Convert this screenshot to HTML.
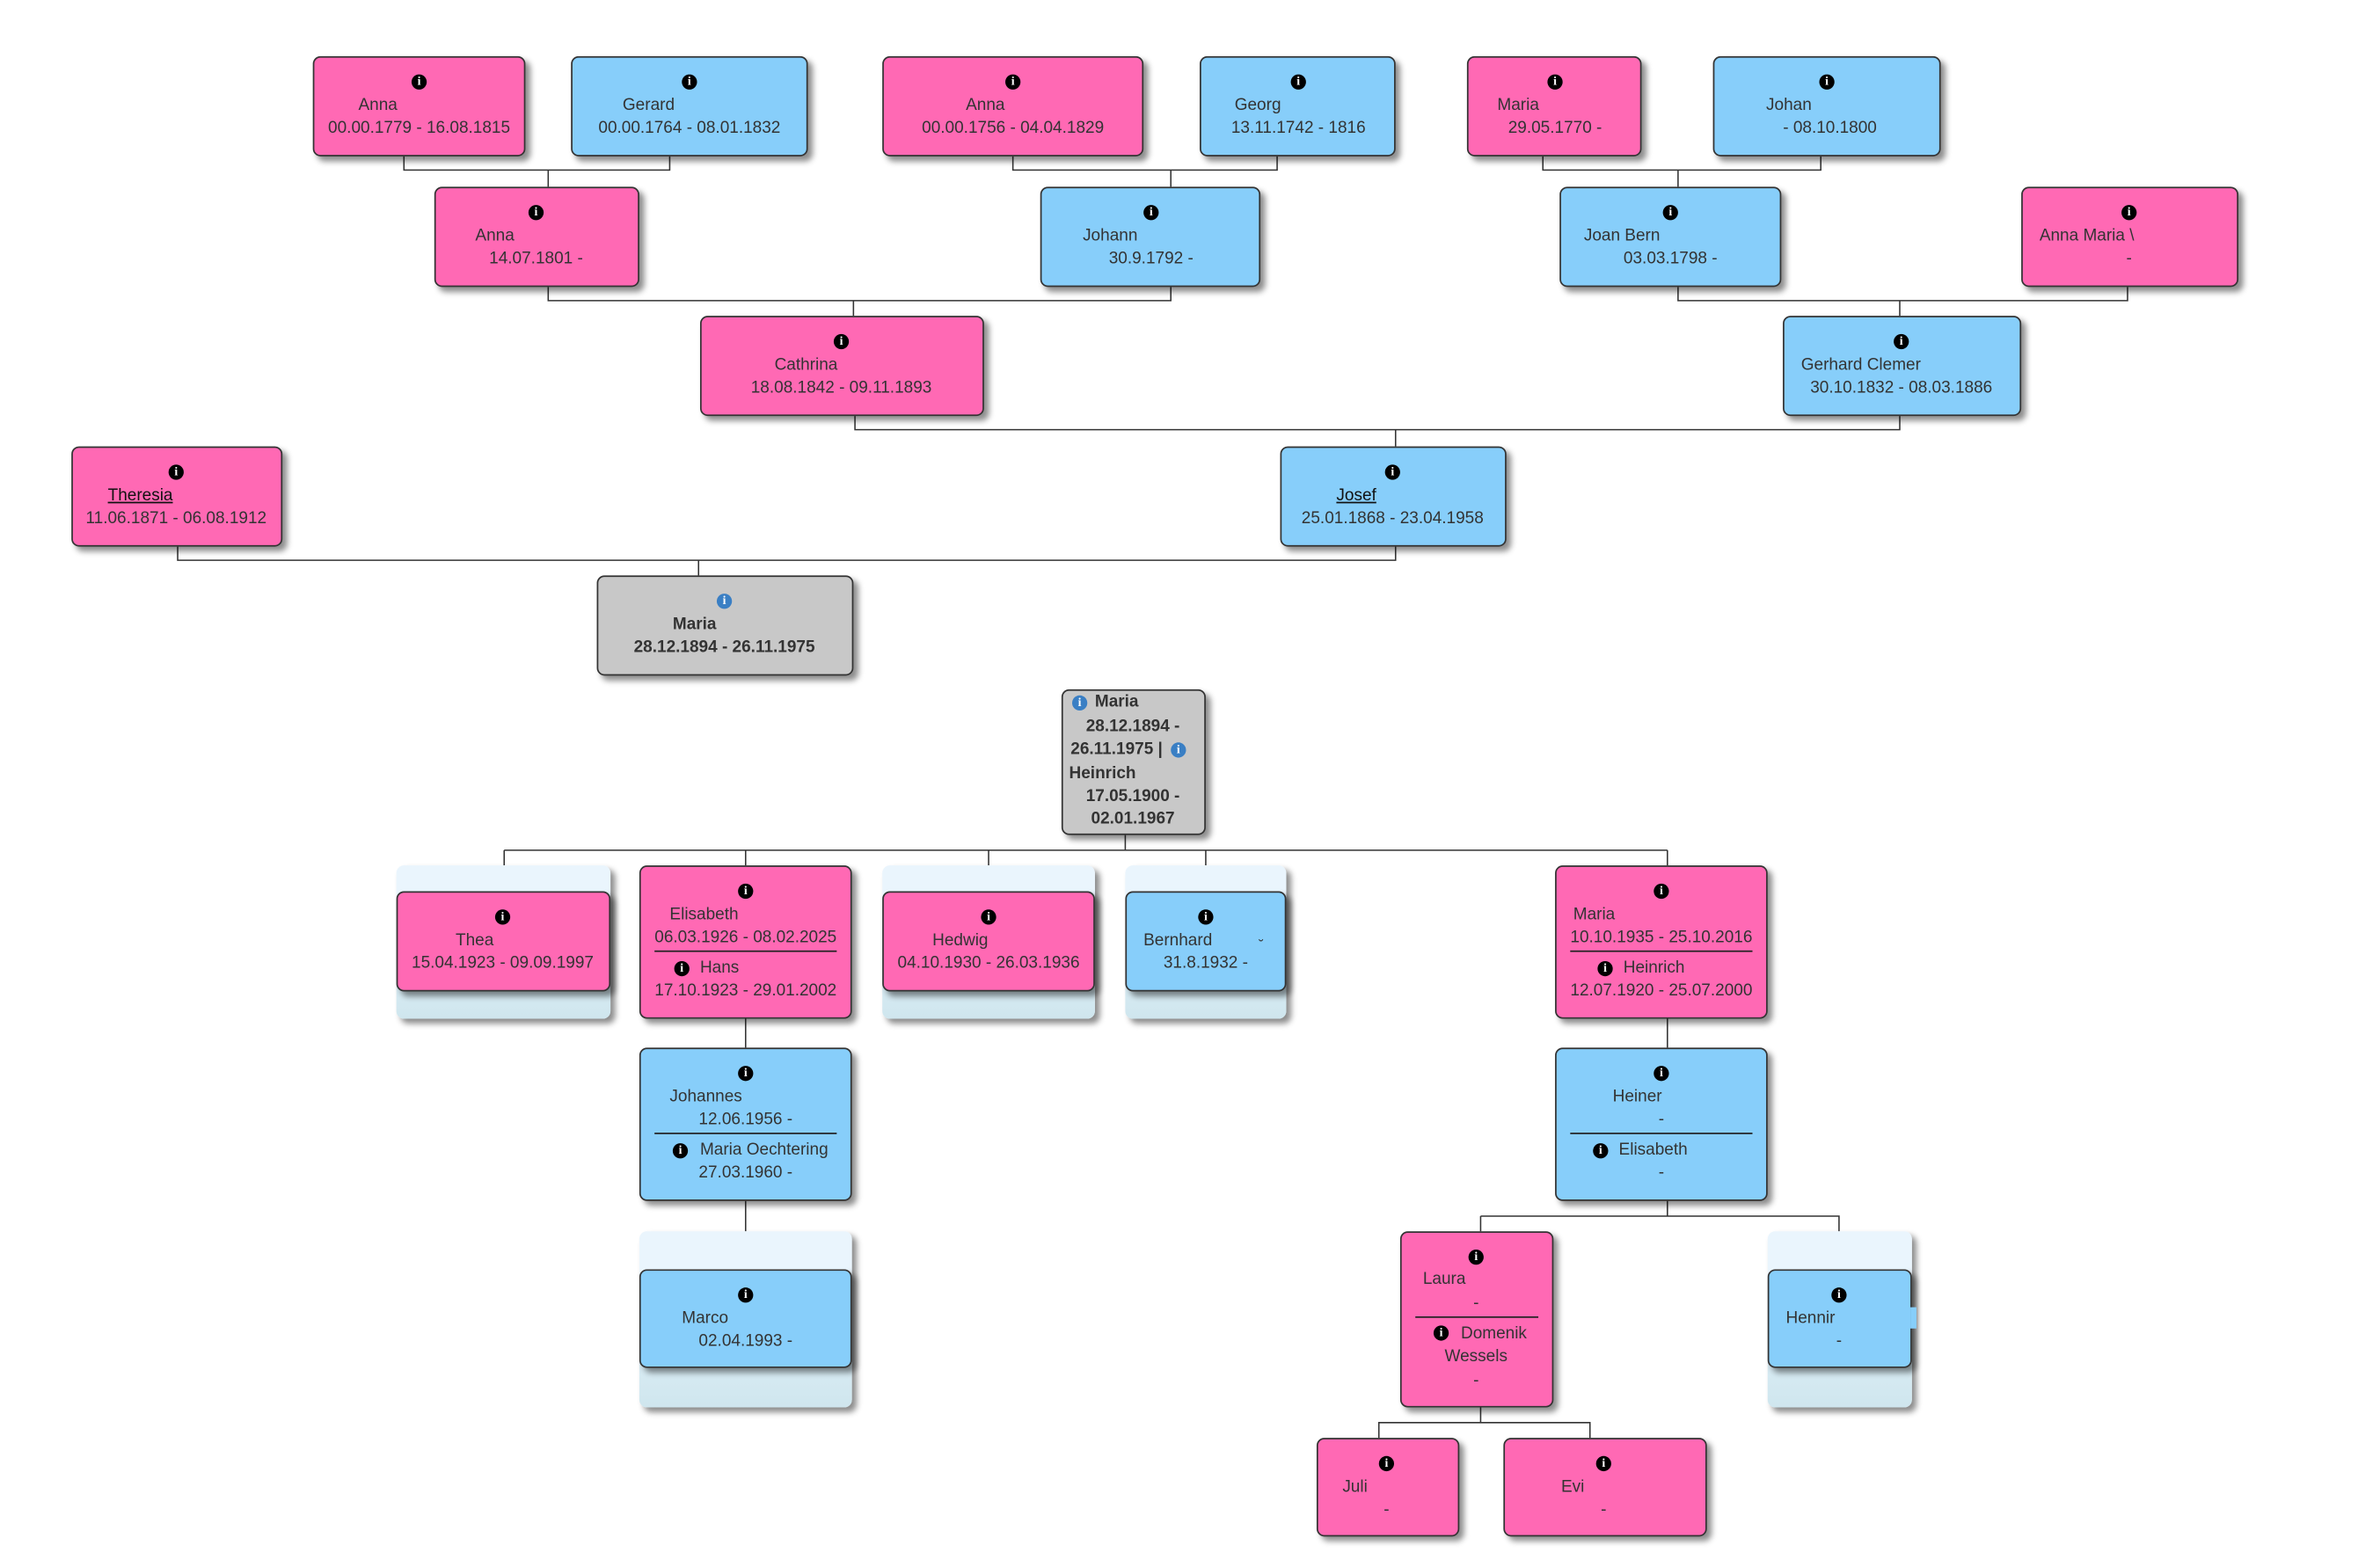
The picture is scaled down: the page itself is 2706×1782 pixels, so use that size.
<!DOCTYPE html>
<html><head><meta charset="utf-8">
<style>
html,body{margin:0;padding:0;background:#fff;width:2706px;height:1782px;overflow:hidden}
#w{position:absolute;left:0;top:0;width:1568px;height:1032px;transform:scale(1.7266);transform-origin:0 0;font-family:"Liberation Sans",Arial,sans-serif;font-size:11px;color:#333}
.n{position:absolute;box-sizing:border-box;border:1px solid #333;border-radius:5px;box-shadow:3px 3px 4px rgba(0,0,0,.45)}
.p{background:#ff69b4}.b{background:#87cefa}.g{background:#c8c8c8}
.wr{position:absolute;border-radius:5px;background:linear-gradient(#eaf5fd 0%,#eaf5fd 25%,#cfe6ee 100%);box-shadow:3px 3px 4px rgba(0,0,0,.45)}
.t{position:absolute;white-space:nowrap;transform:translateY(-50%);line-height:13px}
.c{position:absolute;white-space:nowrap;transform:translate(-50%,-50%);line-height:13px}
.ic{position:absolute;width:10px;height:10px;border-radius:50%;background:#000;color:#fff;font-size:8px;font-weight:bold;line-height:10px;text-align:center;transform:translate(-50%,-50%);font-style:normal;font-family:"Liberation Serif",serif}
.bl{background:#3a7fc4}
.bo{font-weight:bold}
.sep{position:absolute;height:1px;background:#222}
svg{position:absolute;left:0;top:0}
</style></head><body><div id="w">
<svg width="1568" height="1032" fill="none" stroke="#333" stroke-width="0.9">
<path d="M266 103V112H441V103M361 112V123"/>
<path d="M667 103V112H841V103M771 112V123"/>
<path d="M1016 103V112H1199V103M1105 112V123"/>
<path d="M361 189V198H771V189M562 198V208"/>
<path d="M1105 189V198H1401V189M1251 198V208"/>
<path d="M563 274V283H1251V274M919 283V294"/>
<path d="M117 360V369H919V360M460 369V379"/>
<path d="M741 550V560M332 560H1098M332 560V570M491 560V570M651 560V570M794 560V570M1098 560V570"/>
<path d="M491 671V690M491 791V811M1098 671V690"/>
<path d="M1098 791V801H975M975 801H1211V811M975 801V811"/>
<path d="M975 927V937H908V947M975 937H1047V947"/>
</svg>

<div class="n p" style="left:206px;top:37px;width:140px;height:66px"></div>
<i class="ic" style="left:276px;top:54px">i</i><div class="t" style="left:236px;top:70px">Anna</div><div class="c" style="left:276px;top:85px">00.00.1779 - 16.08.1815</div>
<div class="n b" style="left:376px;top:37px;width:156px;height:66px"></div>
<i class="ic" style="left:454px;top:54px">i</i><div class="t" style="left:410px;top:70px">Gerard</div><div class="c" style="left:454px;top:85px">00.00.1764 - 08.01.1832</div>
<div class="n p" style="left:581px;top:37px;width:172px;height:66px"></div>
<i class="ic" style="left:667px;top:54px">i</i><div class="t" style="left:636px;top:70px">Anna</div><div class="c" style="left:667px;top:85px">00.00.1756 - 04.04.1829</div>
<div class="n b" style="left:790px;top:37px;width:129px;height:66px"></div>
<i class="ic" style="left:855px;top:54px">i</i><div class="t" style="left:813px;top:70px">Georg</div><div class="c" style="left:855px;top:85px">13.11.1742 - 1816</div>
<div class="n p" style="left:966px;top:37px;width:115px;height:66px"></div>
<i class="ic" style="left:1024px;top:54px">i</i><div class="t" style="left:986px;top:70px">Maria</div><div class="c" style="left:1024px;top:85px">29.05.1770 -</div>
<div class="n b" style="left:1128px;top:37px;width:150px;height:66px"></div>
<i class="ic" style="left:1203px;top:54px">i</i><div class="t" style="left:1163px;top:70px">Johan</div><div class="c" style="left:1205px;top:85px">- 08.10.1800</div>

<div class="n p" style="left:286px;top:123px;width:135px;height:66px"></div>
<i class="ic" style="left:353px;top:140px">i</i><div class="t" style="left:313px;top:156px">Anna</div><div class="c" style="left:353px;top:171px">14.07.1801 -</div>
<div class="n b" style="left:685px;top:123px;width:145px;height:66px"></div>
<i class="ic" style="left:758px;top:140px">i</i><div class="t" style="left:713px;top:156px">Johann</div><div class="c" style="left:758px;top:171px">30.9.1792 -</div>
<div class="n b" style="left:1027px;top:123px;width:146px;height:66px"></div>
<i class="ic" style="left:1100px;top:140px">i</i><div class="t" style="left:1043px;top:156px">Joan Bern</div><div class="c" style="left:1100px;top:171px">03.03.1798 -</div>
<div class="n p" style="left:1331px;top:123px;width:143px;height:66px"></div>
<i class="ic" style="left:1402px;top:140px">i</i><div class="t" style="left:1343px;top:156px">Anna Maria \</div><div class="c" style="left:1402px;top:171px">-</div>

<div class="n p" style="left:461px;top:208px;width:187px;height:66px"></div>
<i class="ic" style="left:554px;top:225px">i</i><div class="t" style="left:510px;top:241px">Cathrina</div><div class="c" style="left:554px;top:256px">18.08.1842 - 09.11.1893</div>
<div class="n b" style="left:1174px;top:208px;width:157px;height:66px"></div>
<i class="ic" style="left:1252px;top:225px">i</i><div class="t" style="left:1186px;top:241px">Gerhard Clemer</div><div class="c" style="left:1252px;top:256px">30.10.1832 - 08.03.1886</div>

<div class="n p" style="left:47px;top:294px;width:139px;height:66px"></div>
<i class="ic" style="left:116px;top:311px">i</i><div class="t" style="left:71px;top:327px;text-decoration:underline;color:#111">Theresia</div><div class="c" style="left:116px;top:342px">11.06.1871 - 06.08.1912</div>
<div class="n b" style="left:843px;top:294px;width:149px;height:66px"></div>
<i class="ic" style="left:917px;top:311px">i</i><div class="t" style="left:880px;top:327px;text-decoration:underline;color:#111">Josef</div><div class="c" style="left:917px;top:342px">25.01.1868 - 23.04.1958</div>

<div class="n g" style="left:393px;top:379px;width:169px;height:66px"></div>
<i class="ic bl" style="left:477px;top:396px">i</i><div class="t bo" style="left:443px;top:412px">Maria</div><div class="c bo" style="left:477px;top:427px">28.12.1894 - 26.11.1975</div>

<div class="n g" style="left:699px;top:454px;width:95px;height:96px"></div>
<i class="ic bl" style="left:711px;top:463px">i</i><div class="t bo" style="left:721px;top:463px">Maria</div>
<div class="c bo" style="left:746px;top:479px">28.12.1894 -</div>
<div class="t bo" style="left:705px;top:494px">26.11.1975 |</div><i class="ic bl" style="left:776px;top:494px">i</i>
<div class="t bo" style="left:704px;top:510px">Heinrich</div>
<div class="c bo" style="left:746px;top:525px">17.05.1900 -</div>
<div class="c bo" style="left:746px;top:540px">02.01.1967</div>

<div class="wr" style="left:261px;top:570px;width:141px;height:101px"></div>
<div class="n p" style="left:261px;top:587px;width:141px;height:66px"></div>
<i class="ic" style="left:331px;top:604px">i</i><div class="t" style="left:300px;top:620px">Thea</div><div class="c" style="left:331px;top:635px">15.04.1923 - 09.09.1997</div>

<div class="n p" style="left:421px;top:570px;width:140px;height:101px"></div>
<i class="ic" style="left:491px;top:587px">i</i><div class="t" style="left:441px;top:603px">Elisabeth</div><div class="c" style="left:491px;top:618px">06.03.1926 - 08.02.2025</div>
<div class="sep" style="left:431px;top:626px;width:120px"></div>
<i class="ic" style="left:449px;top:638px">i</i><div class="t" style="left:461px;top:638px">Hans</div><div class="c" style="left:491px;top:653px">17.10.1923 - 29.01.2002</div>

<div class="wr" style="left:581px;top:570px;width:140px;height:101px"></div>
<div class="n p" style="left:581px;top:587px;width:140px;height:66px"></div>
<i class="ic" style="left:651px;top:604px">i</i><div class="t" style="left:614px;top:620px">Hedwig</div><div class="c" style="left:651px;top:635px">04.10.1930 - 26.03.1936</div>

<div class="wr" style="left:741px;top:570px;width:106px;height:101px"></div>
<div class="n b" style="left:741px;top:587px;width:106px;height:66px"></div>
<i class="ic" style="left:794px;top:604px">i</i><div class="t" style="left:753px;top:620px">Bernhard</div><div class="t" style="left:829px;top:623px;font-size:9px">˘</div><div class="c" style="left:794px;top:635px">31.8.1932 -</div>

<div class="n p" style="left:1024px;top:570px;width:140px;height:101px"></div>
<i class="ic" style="left:1094px;top:587px">i</i><div class="t" style="left:1036px;top:603px">Maria</div><div class="c" style="left:1094px;top:618px">10.10.1935 - 25.10.2016</div>
<div class="sep" style="left:1034px;top:626px;width:120px"></div>
<i class="ic" style="left:1057px;top:638px">i</i><div class="t" style="left:1069px;top:638px">Heinrich</div><div class="c" style="left:1094px;top:653px">12.07.1920 - 25.07.2000</div>

<div class="n b" style="left:421px;top:690px;width:140px;height:101px"></div>
<i class="ic" style="left:491px;top:707px">i</i><div class="t" style="left:441px;top:723px">Johannes</div><div class="c" style="left:491px;top:738px">12.06.1956 -</div>
<div class="sep" style="left:431px;top:746px;width:120px"></div>
<i class="ic" style="left:448px;top:758px">i</i><div class="t" style="left:461px;top:758px">Maria Oechtering</div><div class="c" style="left:491px;top:773px">27.03.1960 -</div>

<div class="n b" style="left:1024px;top:690px;width:140px;height:101px"></div>
<i class="ic" style="left:1094px;top:707px">i</i><div class="t" style="left:1062px;top:723px">Heiner</div><div class="c" style="left:1094px;top:738px">-</div>
<div class="sep" style="left:1034px;top:746px;width:120px"></div>
<i class="ic" style="left:1054px;top:758px">i</i><div class="t" style="left:1066px;top:758px">Elisabeth</div><div class="c" style="left:1094px;top:773px">-</div>

<div class="wr" style="left:421px;top:811px;width:140px;height:116px"></div>
<div class="n b" style="left:421px;top:836px;width:140px;height:65px"></div>
<i class="ic" style="left:491px;top:853px">i</i><div class="t" style="left:449px;top:869px">Marco</div><div class="c" style="left:491px;top:884px">02.04.1993 -</div>

<div class="n p" style="left:922px;top:811px;width:101px;height:116px"></div>
<i class="ic" style="left:972px;top:828px">i</i><div class="t" style="left:937px;top:843px">Laura</div><div class="c" style="left:972px;top:859px">-</div>
<div class="sep" style="left:932px;top:867px;width:81px"></div>
<i class="ic" style="left:949px;top:878px">i</i><div class="t" style="left:962px;top:879px">Domenik</div><div class="c" style="left:972px;top:894px">Wessels</div><div class="c" style="left:972px;top:910px">-</div>

<div class="wr" style="left:1164px;top:811px;width:95px;height:116px"></div>
<div class="n b" style="left:1164px;top:836px;width:95px;height:65px"></div>
<div style="position:absolute;left:1258px;top:861px;width:4px;height:14px;background:#87cefa"></div>
<i class="ic" style="left:1211px;top:853px">i</i><div class="t" style="left:1176px;top:869px">Hennir</div><div class="c" style="left:1211px;top:884px">-</div>

<div class="n p" style="left:867px;top:947px;width:94px;height:65px"></div>
<i class="ic" style="left:913px;top:964px">i</i><div class="t" style="left:884px;top:980px">Juli</div><div class="c" style="left:913px;top:995px">-</div>
<div class="n p" style="left:990px;top:947px;width:134px;height:65px"></div>
<i class="ic" style="left:1056px;top:964px">i</i><div class="t" style="left:1028px;top:980px">Evi</div><div class="c" style="left:1056px;top:995px">-</div>
</div></body></html>
